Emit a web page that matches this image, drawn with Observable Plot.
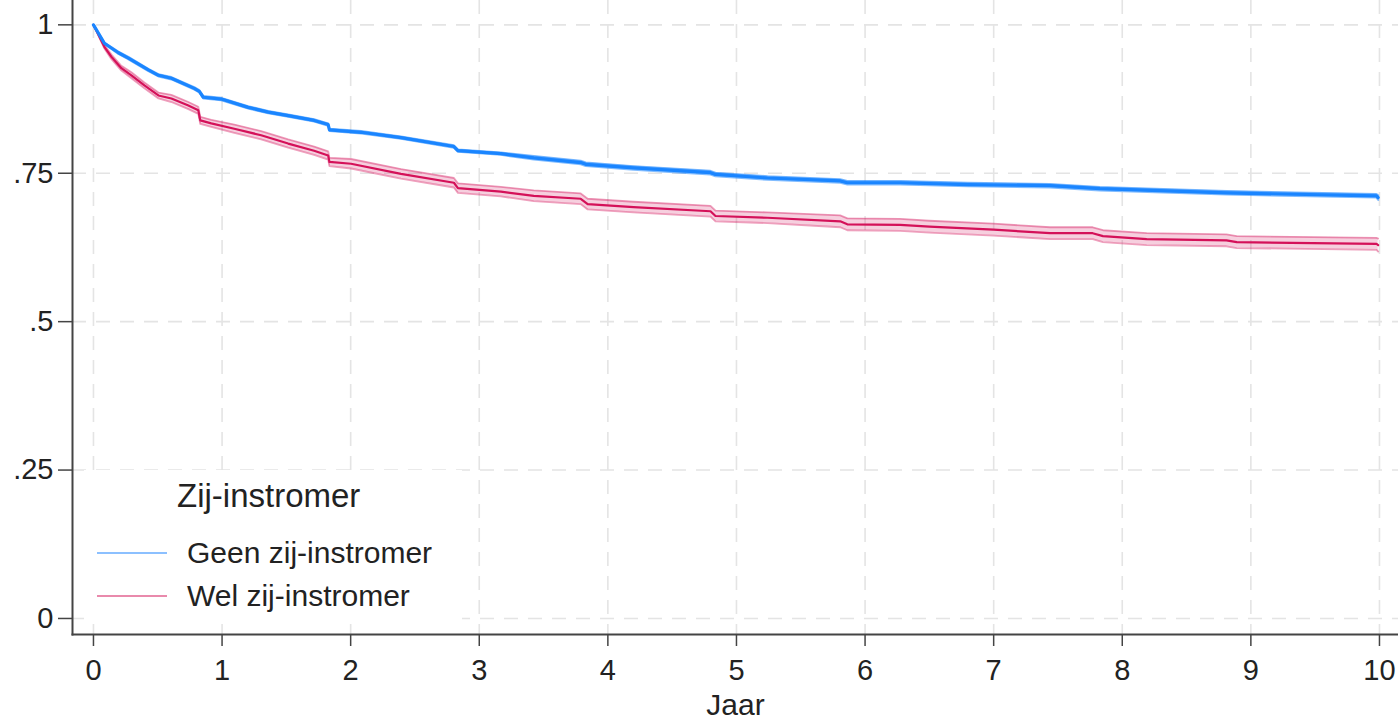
<!DOCTYPE html>
<html><head><meta charset="utf-8">
<script src="https://cdn.jsdelivr.net/npm/d3@7"></script>
<script src="https://cdn.jsdelivr.net/npm/@observablehq/plot@0.6"></script>
<style>
body{margin:0;background:#fff;font-family:"Liberation Sans",Arial,sans-serif;}
#wrap{position:relative;width:1398px;height:722px;overflow:hidden;}
</style></head><body><div id="wrap"></div>
<script>
// Categories / legend labels
const groups = ["Geen zij-instromer", "Wel zij-instromer"];
const legendTitle = "Zij-instromer";
const xLabel = "Jaar";
const xTicks = [0,1,2,3,4,5,6,7,8,9,10];
const yTicks = [0,0.25,0.5,0.75,1];
const yTickLabels = ["0",".25",".5",".75","1"];

// Geen zij-instromer (Kaplan-Meier estimate + CI)
const geenTime = [0,0.085,0.194,0.272,0.427,0.505,0.606,0.784,0.823,0.854,0.994,1.203,1.359,1.514,1.716,1.825,1.835,2.081,2.391,2.803,2.834,3.168,3.424,3.789,3.828,4.200,4.798,4.837,5.241,5.807,5.862,6.273,6.8,7.438,7.826,8.812,9.247,9.977,9.990];
const geenSurv = [1,0.969,0.953,0.944,0.924,0.915,0.910,0.893,0.888,0.878,0.875,0.861,0.853,0.847,0.839,0.832,0.823,0.819,0.810,0.795,0.788,0.783,0.776,0.768,0.765,0.759,0.751,0.748,0.742,0.737,0.734,0.734,0.731,0.729,0.724,0.717,0.715,0.712,0.709];
const geenLower = [1,0.968,0.951,0.942,0.922,0.913,0.908,0.891,0.886,0.876,0.873,0.859,0.851,0.845,0.837,0.830,0.821,0.817,0.808,0.793,0.786,0.781,0.773,0.765,0.762,0.756,0.748,0.745,0.739,0.734,0.731,0.731,0.728,0.726,0.721,0.714,0.712,0.709,0.705];
const geenUpper = [1,0.970,0.955,0.946,0.926,0.917,0.912,0.895,0.890,0.880,0.877,0.863,0.855,0.849,0.841,0.834,0.825,0.821,0.812,0.797,0.790,0.785,0.779,0.771,0.768,0.762,0.754,0.751,0.745,0.740,0.737,0.737,0.734,0.732,0.727,0.720,0.718,0.715,0.713];

// Wel zij-instromer
const welTime = [0,0.085,0.140,0.217,0.295,0.396,0.505,0.606,0.738,0.815,0.831,0.916,1.095,1.304,1.514,1.716,1.825,1.835,2.003,2.391,2.803,2.834,3.168,3.424,3.789,3.843,4.200,4.798,4.837,5.241,5.807,5.862,6.273,6.5,7.0,7.438,7.77,7.85,8.19,8.81,8.89,9.977,9.990];
const welSurv = [1,0.963,0.946,0.927,0.915,0.898,0.881,0.876,0.864,0.856,0.839,0.834,0.825,0.814,0.800,0.788,0.780,0.769,0.766,0.749,0.734,0.725,0.719,0.712,0.707,0.698,0.693,0.686,0.678,0.675,0.669,0.664,0.663,0.660,0.655,0.649,0.649,0.644,0.639,0.637,0.634,0.631,0.629];
const welLower = [1,0.960,0.942,0.923,0.910,0.893,0.876,0.870,0.858,0.850,0.833,0.828,0.818,0.807,0.793,0.781,0.773,0.762,0.758,0.741,0.726,0.717,0.711,0.703,0.698,0.689,0.684,0.677,0.669,0.666,0.659,0.654,0.653,0.650,0.645,0.639,0.639,0.634,0.629,0.627,0.624,0.621,0.618];
const welUpper = [1,0.966,0.950,0.931,0.920,0.903,0.886,0.882,0.870,0.862,0.845,0.840,0.832,0.821,0.807,0.795,0.787,0.776,0.774,0.757,0.742,0.733,0.727,0.721,0.716,0.707,0.702,0.695,0.687,0.684,0.679,0.674,0.673,0.670,0.665,0.659,0.659,0.654,0.649,0.647,0.644,0.641,0.640];

const colors = ["#1a85ff", "#d41159"];
const legendColors = ["#8cc0ff", "#e98aac"];

const geen = geenTime.map((t,i)=>({t, s:geenSurv[i], lo:geenLower[i], hi:geenUpper[i]}));
const wel = welTime.map((t,i)=>({t, s:welSurv[i], lo:welLower[i], hi:welUpper[i]}));

const grid = {stroke:"#e4e4e4", strokeOpacity:1, strokeWidth:1.6, strokeDasharray:"14,10"};
const font = "'Liberation Sans', Arial, sans-serif";

const chart = Plot.plot({
  width:1398, height:722,
  marginLeft:72, marginRight:0, marginTop:0, marginBottom:88,
  style:{fontFamily:font, background:"#fff", color:"#222"},
  x:{domain:[-0.163,10.148]},
  y:{domain:[-0.027,1.041]},
  marks:[
    Plot.gridX(xTicks, grid),
    Plot.gridY(yTicks, grid),
    // Wel
    Plot.areaY(wel, {x:"t", y1:"lo", y2:"hi", fill:colors[1], fillOpacity:0.2}),
    Plot.line(wel, {x:"t", y:"lo", stroke:colors[1], strokeOpacity:0.4, strokeWidth:1.8}),
    Plot.line(wel, {x:"t", y:"hi", stroke:colors[1], strokeOpacity:0.4, strokeWidth:1.8}),
    Plot.line(wel, {x:"t", y:"s", stroke:colors[1], strokeWidth:2.2}),
    // Geen
    Plot.areaY(geen, {x:"t", y1:"lo", y2:"hi", fill:colors[0], fillOpacity:0.35}),
    Plot.line(geen, {x:"t", y:"lo", stroke:colors[0], strokeOpacity:0.55, strokeWidth:2}),
    Plot.line(geen, {x:"t", y:"hi", stroke:colors[0], strokeOpacity:0.55, strokeWidth:2}),
    Plot.line(geen, {x:"t", y:"s", stroke:colors[0], strokeWidth:3.2}),
    Plot.frame({anchor:"left", stroke:"#444", strokeWidth:2}),
    Plot.frame({anchor:"bottom", stroke:"#444", strokeWidth:2}),
    Plot.axisX(xTicks, {tickSize:12, tickPadding:13, fontSize:29, stroke:"#444", strokeWidth:1.5, label:null,
      tickFormat:(d)=>String(d)}),
    Plot.axisY(yTicks, {tickSize:14, tickPadding:5, fontSize:29, stroke:"#444", strokeWidth:1.5,
      tickFormat:(d)=>yTickLabels[yTicks.indexOf(d)], label:null}),
    Plot.text([xLabel], {frameAnchor:"bottom", dy:80, fontSize:30, fill:"#222"})
  ]
});
const wrap = document.getElementById("wrap");
wrap.appendChild(chart);

// Legend (inside the plot region, as in the original)
const svg = d3.select(chart);
const lg = svg.append("g").attr("font-family", font).attr("fill", "#222").attr("text-anchor", "start");
lg.append("rect").attr("x", 84).attr("y", 470).attr("width", 378).attr("height", 152).attr("fill", "#fff");
lg.append("text").attr("x", 177).attr("y", 507).attr("font-size", 33).attr("text-anchor", "start").text(legendTitle);
groups.forEach((g,i)=>{
  const y = 553 + i*43;
  lg.append("line").attr("x1", 97).attr("x2", 167).attr("y1", y).attr("y2", y)
    .attr("stroke", legendColors[i]).attr("stroke-width", 2);
  lg.append("text").attr("x", 187).attr("y", y + 10).attr("font-size", 30).attr("text-anchor", "start").text(g);
});
</script></body></html>
